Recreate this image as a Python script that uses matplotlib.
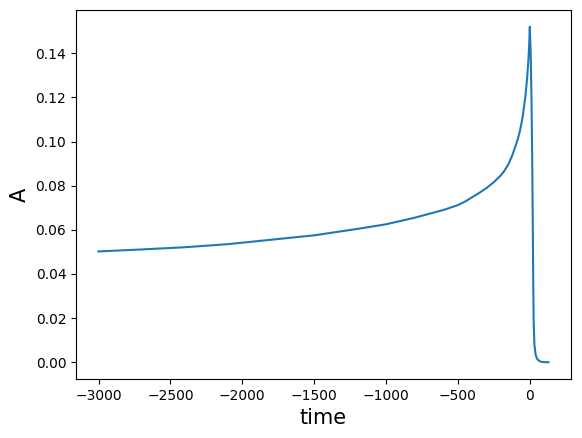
import matplotlib
matplotlib.use("Agg")
import matplotlib.pyplot as plt
import numpy as np

time = [-3000, -2700, -2400, -2100, -1800, -1500, -1200, -1000, -800, -600,
        -500, -450, -400, -350, -300, -250, -200, -175, -150, -125, -100,
        -85, -70, -60, -50, -40, -30, -20, -15, -10, -5, -2, 0,
        6, 12, 17, 21, 24, 27, 32, 40, 50, 65, 80, 100, 130]
amp = [0.0502, 0.0511, 0.0521, 0.0535, 0.0555, 0.0575, 0.0604, 0.0625,
       0.0655, 0.0690, 0.0712, 0.0728, 0.0748, 0.0768, 0.0790, 0.0816,
       0.0848, 0.0869, 0.0896, 0.0932, 0.0978, 0.1008, 0.1045, 0.1075,
       0.1112, 0.1158, 0.1210, 0.1278, 0.1320, 0.1368, 0.1430, 0.1480,
       0.1520, 0.140, 0.118, 0.090, 0.060, 0.035, 0.018, 0.008, 0.0035,
       0.0016, 0.0006, 0.0002, 0.00005, 0.0]

fig = plt.figure(figsize=(5.82, 4.38), dpi=100)
ax = fig.add_axes([76/582, 1 - 379/438, (571-76)/582, (379-10)/438])
ax.plot(time, amp, color="#1f77b4", lw=1.5)
ax.set_xlabel("time", fontsize=15)
ax.set_ylabel("A", fontsize=15)
fig.savefig("out.png", dpi=100)
